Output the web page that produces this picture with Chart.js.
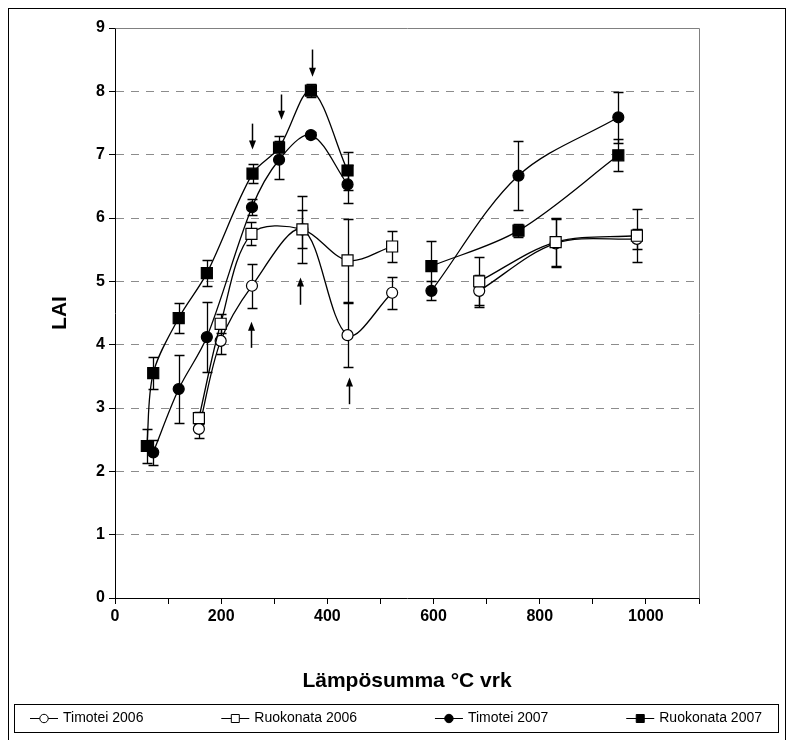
<!DOCTYPE html>
<html>
<head>
<meta charset="utf-8">
<script src="https://cdn.jsdelivr.net/npm/chart.js@4.4.0/dist/chart.umd.min.js"></script>
<style>
    html, body { margin: 0; padding: 0; background: #fff; }
</style>
</head>
<body>
<canvas id="laiChart" width="792" height="740"></canvas>
<script>
// Heat sum (x) values; a null y marks the break between the two growing periods
const xTim06 = [158, 199, 258, 353, 438, 522, 560, 686, 830, 983];
const yTim06 = [2.67, 4.06, 4.93, 5.82, 4.15, 4.82, null, 4.85, 5.60, 5.67];
const eTim06 = [0.15, 0.20, 0.35, 0.30, 0.50, 0.25, null, 0.25, 0.38, 0.16];

const xRuo06 = [158, 199, 257, 353, 438, 522, 560, 686, 830, 983];
const yRuo06 = [2.84, 4.33, 5.75, 5.82, 5.33, 5.55, null, 5.00, 5.62, 5.72];
const eRuo06 = [0.10, 0.15, 0.18, 0.53, 0.66, 0.25, null, 0.38, 0.38, 0.42];

const xTim07 = [72, 120, 173, 258, 309, 369, 438, 520, 596, 760, 948];
const yTim07 = [2.30, 3.30, 4.12, 6.17, 6.92, 7.31, 6.53, null, 4.85, 6.67, 7.59];
const eTim07 = [0.20, 0.54, 0.55, 0.13, 0.30, 0.05, 0.30, null, 0.15, 0.55, 0.40];

const xRuo07 = [60, 72, 120, 173, 259, 309, 369, 438, 520, 596, 760, 948];
const yRuo07 = [2.40, 3.55, 4.42, 5.13, 6.70, 7.11, 8.01, 6.75, null, 5.24, 5.80, 6.99];
const eRuo07 = [0.27, 0.25, 0.23, 0.20, 0.15, 0.18, 0.10, 0.30, null, 0.40, 0.10, 0.25];

// Arrows marking harvest times (x, tail y, tip y)
const arrowX = [258, 312, 372, 257, 349, 441];
const arrowFrom = [7.49, 7.95, 8.66, 3.95, 4.63, 3.06];
const arrowTo = [7.08, 7.55, 8.23, 4.36, 5.06, 3.48];

const seriesLabels = ['Timotei 2006', 'Ruokonata 2006', 'Timotei 2007', 'Ruokonata 2007'];

const FONT = '"Liberation Sans", Arial, sans-serif';

function makeSeries(label, xs, ys, errs, style, filled, order) {
    return {
        label: label,
        data: xs.map((x, i) => ({ x: x, y: ys[i] })),
        errors: errs,
        borderColor: '#000',
        borderWidth: 1.3,
        pointStyle: style,
        pointRadius: style === 'rect' ? 7.8 : 5.5,
        pointBackgroundColor: filled ? '#000' : '#fff',
        pointBorderColor: '#000',
        pointBorderWidth: 1.2,
        tension: 0.33,
        spanGaps: false,
        fill: false,
        order: order
    };
}

// Draw the error bars behind the markers
const errorBars = {
    id: 'errorBars',
    beforeDatasetsDraw(chart) {
        const { ctx, scales: { x, y } } = chart;
        ctx.save();
        ctx.strokeStyle = '#000';
        ctx.lineWidth = 1.3;
        chart.data.datasets.forEach(ds => {
            ds.data.forEach((p, i) => {
                const e = ds.errors[i];
                if (p.y === null || e === null) return;
                const px = Math.round(x.getPixelForValue(p.x)) + 0.5;
                const top = Math.round(y.getPixelForValue(p.y + e)) + 0.5;
                const bot = Math.round(y.getPixelForValue(p.y - e)) + 0.5;
                ctx.beginPath();
                ctx.moveTo(px, top); ctx.lineTo(px, bot);
                ctx.moveTo(px - 5, top); ctx.lineTo(px + 5, top);
                ctx.moveTo(px - 5, bot); ctx.lineTo(px + 5, bot);
                ctx.stroke();
            });
        });
        ctx.restore();
    }
};

// Outer frame and grey plot border (top, right)
const frames = {
    id: 'frames',
    beforeDraw(chart) {
        const { ctx } = chart;
        ctx.save();
        ctx.fillStyle = '#fff';
        ctx.fillRect(0, 0, chart.width, chart.height);
        ctx.strokeStyle = '#000';
        ctx.lineWidth = 1;
        ctx.strokeRect(8.5, 8.5, 777, 760);
        ctx.restore();
    },
    beforeDatasetsDraw(chart) {
        const { ctx, chartArea: a } = chart;
        ctx.save();
        ctx.strokeStyle = '#808080';
        ctx.lineWidth = 1;
        ctx.beginPath();
        ctx.moveTo(Math.round(a.left) + 0.5, Math.round(a.top) + 0.5);
        ctx.lineTo(Math.round(a.right) + 0.5, Math.round(a.top) + 0.5);
        ctx.lineTo(Math.round(a.right) + 0.5, Math.round(a.bottom) + 0.5);
        ctx.stroke();
        ctx.restore();
    }
};

const arrows = {
    id: 'arrows',
    afterDatasetsDraw(chart) {
        const { ctx, scales: { x, y } } = chart;
        ctx.save();
        ctx.strokeStyle = '#000';
        ctx.fillStyle = '#000';
        ctx.lineWidth = 1.5;
        arrowX.forEach((ax, i) => {
            const px = Math.round(x.getPixelForValue(ax)) + 0.5;
            const y1 = y.getPixelForValue(arrowFrom[i]);
            const y2 = y.getPixelForValue(arrowTo[i]);
            const dir = y2 > y1 ? 1 : -1;
            ctx.beginPath();
            ctx.moveTo(px, y1);
            ctx.lineTo(px, y2 - dir * 6);
            ctx.stroke();
            ctx.beginPath();
            ctx.moveTo(px, y2);
            ctx.lineTo(px - 3.5, y2 - dir * 9);
            ctx.lineTo(px + 3.5, y2 - dir * 9);
            ctx.closePath();
            ctx.fill();
        });
        ctx.restore();
    }
};

function drawMarker(ctx, ds, cx, cy) {
    ctx.fillStyle = ds.pointBackgroundColor;
    ctx.strokeStyle = '#000';
    ctx.lineWidth = 1;
    ctx.beginPath();
    if (ds.pointStyle === 'rect') {
        ctx.rect(cx - 4, cy - 4, 8, 8);
    } else {
        ctx.arc(cx, cy, 4.2, 0, Math.PI * 2);
    }
    ctx.fill();
    ctx.stroke();
}

// Boxed legend along the bottom
const boxLegend = {
    id: 'boxLegend',
    afterDraw(chart) {
        const { ctx } = chart;
        const left = 14, right = 778, top = 704, bottom = 732;
        ctx.save();
        ctx.strokeStyle = '#000';
        ctx.lineWidth = 1;
        ctx.strokeRect(left + 0.5, top + 0.5, right - left, bottom - top);
        ctx.font = '14px ' + FONT;
        const items = chart.data.datasets.map(ds => ({ ds: ds, w: 28 + 5 + ctx.measureText(ds.label).width }));
        const total = items.reduce((s, it) => s + it.w, 0);
        const gap = (right - left - 32 - total) / (items.length - 1);
        const cy = Math.round((top + bottom) / 2) + 0.5;
        let cx = left + 16;
        items.forEach(it => {
            ctx.strokeStyle = '#000';
            ctx.lineWidth = 1;
            ctx.beginPath();
            ctx.moveTo(cx, cy);
            ctx.lineTo(cx + 28, cy);
            ctx.stroke();
            drawMarker(ctx, it.ds, cx + 14, cy);
            ctx.fillStyle = '#000';
            ctx.textBaseline = 'middle';
            ctx.textAlign = 'left';
            ctx.fillText(it.ds.label, cx + 33, cy);
            cx += it.w + gap;
        });
        ctx.restore();
    }
};

const ctx = document.getElementById('laiChart').getContext('2d');

new Chart(ctx, {
    type: 'line',
    data: {
        datasets: [
            makeSeries(seriesLabels[0], xTim06, yTim06, eTim06, 'circle', false, 2),
            makeSeries(seriesLabels[1], xRuo06, yRuo06, eRuo06, 'rect', false, 1),
            makeSeries(seriesLabels[2], xTim07, yTim07, eTim07, 'circle', true, 2),
            makeSeries(seriesLabels[3], xRuo07, yRuo07, eRuo07, 'rect', true, 1)
        ]
    },
    options: {
        responsive: false,
        animation: false,
        events: [],
        layout: {
            padding: { left: 34, right: 93, top: 28, bottom: 42 }
        },
        plugins: {
            legend: { display: false },
            tooltip: { enabled: false }
        },
        scales: {
            x: {
                type: 'linear',
                min: 0,
                max: 1100,
                afterFit: scale => { scale.height = 100; },
                ticks: {
                    stepSize: 100,
                    autoSkip: false,
                    maxRotation: 0,
                    padding: 3,
                    color: '#000',
                    font: { family: FONT, size: 16, weight: 'bold' },
                    callback: v => (v % 200 === 0 ? v : '')
                },
                grid: {
                    drawOnChartArea: false,
                    drawTicks: true,
                    tickLength: 6,
                    tickColor: '#000'
                },
                border: { color: '#000', width: 1 },
                title: {
                    display: true,
                    text: 'Lämpösumma °C vrk',
                    color: '#000',
                    font: { family: FONT, size: 21, weight: 'bold' },
                    padding: { top: 0, bottom: 4 }
                }
            },
            y: {
                min: 0,
                max: 9,
                afterFit: scale => { scale.width = 81; },
                ticks: {
                    stepSize: 1,
                    padding: 4,
                    color: '#000',
                    font: { family: FONT, size: 16, weight: 'bold' }
                },
                grid: {
                    color: c => (c.tick && (c.tick.value === 0 || c.tick.value === 9)) ? 'rgba(0,0,0,0)' : '#8c8c8c',
                    lineWidth: 1,
                    tickLength: 6,
                    tickColor: '#000'
                },
                border: { color: '#000', width: 1, dash: [8, 7] },
                title: {
                    display: true,
                    text: 'LAI',
                    color: '#000',
                    font: { family: FONT, size: 21, weight: 'bold' },
                    padding: { top: 14, bottom: 0 }
                }
            }
        }
    },
    plugins: [frames, errorBars, arrows, boxLegend]
});
</script>
</body>
</html>
